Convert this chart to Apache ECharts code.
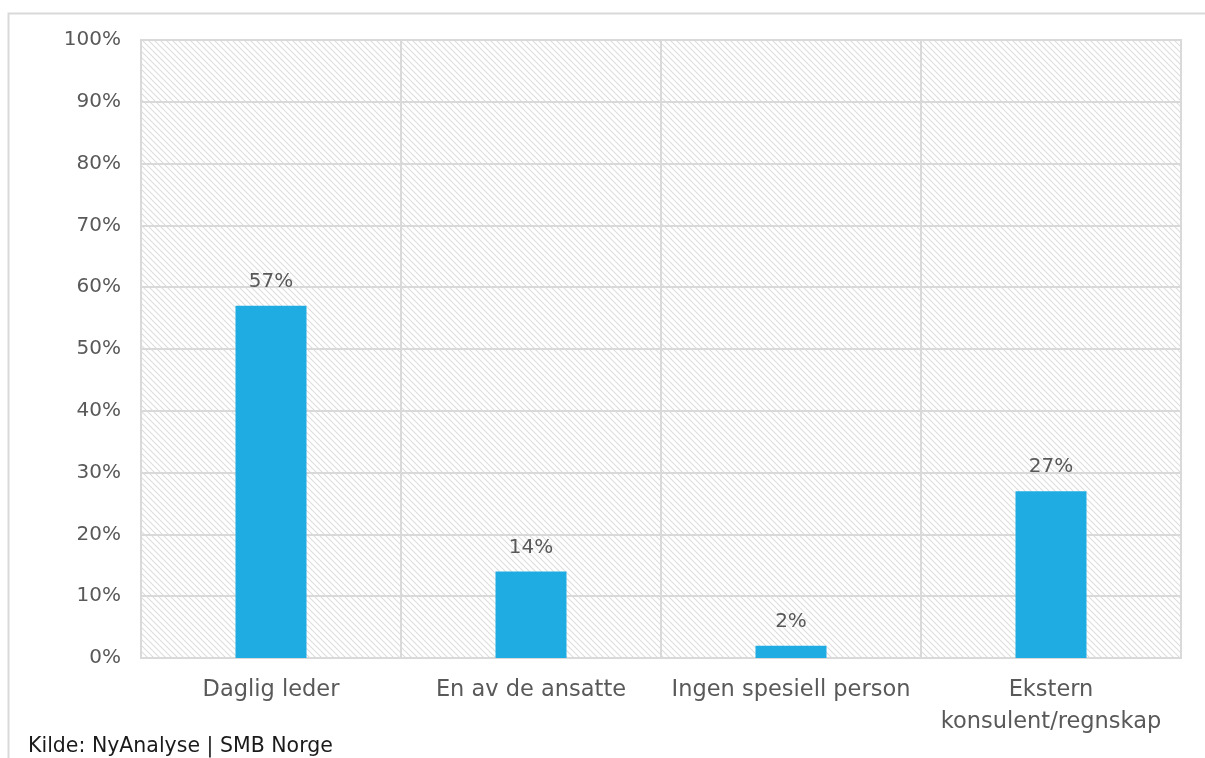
<!DOCTYPE html>
<html><head><meta charset="utf-8">
<script src="https://cdn.jsdelivr.net/npm/echarts@6/dist/echarts.min.js"></script>
<style>html,body{margin:0;padding:0;background:#fff}#c{width:1205px;height:758px}</style>
</head><body><div id="c"></div>
<script>
const categories = ['Daglig leder', 'En av de ansatte', 'Ingen spesiell person', 'Ekstern\nkonsulent/regnskap'];
const values = [57, 14, 2, 27];
const yTicks = [0, 10, 20, 30, 40, 50, 60, 70, 80, 90, 100];

const pc = document.createElement('canvas');
pc.width = 6; pc.height = 6;
const g = pc.getContext('2d');
g.fillStyle = '#ffffff'; g.fillRect(0, 0, 6, 6);
g.strokeStyle = '#dddddd'; g.lineWidth = 1.1;
g.beginPath();
g.moveTo(-1, -1); g.lineTo(7, 7);
g.moveTo(-7, -1); g.lineTo(1, 7);
g.moveTo(5, -1); g.lineTo(13, 7);
g.stroke();

const chart = echarts.init(document.getElementById('c'), null, {renderer: 'canvas'});
const font = '"DejaVu Sans", sans-serif';
chart.setOption({
  animation: false,
  grid: {left: 141, right: 24, top: 40, bottom: 100, show: true,
    backgroundColor: {image: pc, repeat: 'repeat'}, borderColor: '#d9d9d9', borderWidth: 2},
  graphic: [
    {type: 'polyline', shape: {points: [[1205, 13.5], [8.5, 13.5], [8.5, 758]]},
      style: {stroke: '#d9d9d9', lineWidth: 2, fill: null}},
    {type: 'text', left: 28, top: 736, style: {text: 'Kilde: NyAnalyse | SMB Norge', fill: '#1a1a1a', font: '20.5px ' + font}}
  ],
  xAxis: {type: 'category', data: categories,
    axisLine: {lineStyle: {color: '#d9d9d9', width: 2}}, axisTick: {show: false},
    splitLine: {show: true, lineStyle: {color: '#d9d9d9', width: 2}},
    axisLabel: {color: '#595959', fontSize: 22.5, fontFamily: font, margin: 16, lineHeight: 32, interval: 0}},
  yAxis: {type: 'value', min: 0, max: 100, interval: 10,
    axisLine: {show: false}, axisTick: {show: false},
    splitLine: {lineStyle: {color: '#d9d9d9', width: 2}},
    axisLabel: {color: '#595959', fontSize: 20, fontFamily: font, margin: 20,
      formatter: v => yTicks.includes(v) ? v + '%' : ''}},
  series: [{type: 'bar', data: values, barWidth: 71, itemStyle: {color: '#1eace2'},
    label: {show: true, position: 'top', distance: 14, color: '#595959', fontSize: 20, fontFamily: font,
      formatter: p => p.value + '%'}}]
});
</script></body></html>
